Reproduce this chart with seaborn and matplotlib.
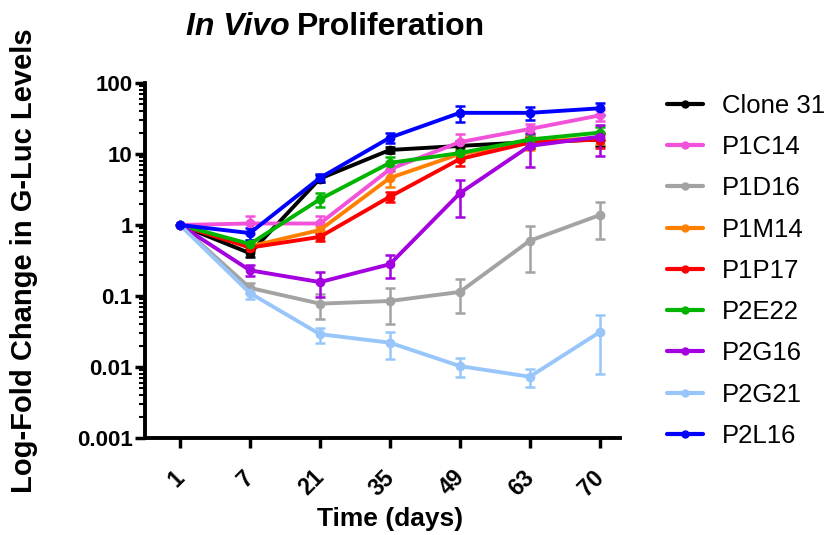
import numpy as np
import pandas as pd
import matplotlib
matplotlib.use("Agg")
import matplotlib.pyplot as plt
import matplotlib.transforms as mtransforms
import seaborn as sns
from matplotlib.lines import Line2D

days = ["1", "7", "21", "35", "49", "63", "70"]
series = ["Clone 31", "P1C14", "P1D16", "P1M14", "P1P17", "P2E22", "P2G16", "P2G21", "P2L16"]
colors = ["#000000", "#F252DA", "#A3A3A3", "#FF8000", "#FF0000", "#00B400", "#A400E0", "#98C6FA", "#0000FF"]

clone31 = [1.0, 0.40, 4.5, 11.4, 13.0, 14.7, 16.0]
p1c14 = [1.0, 1.05, 1.05, 6.1, 14.7, 22.5, 35.0]
p1d16 = [1.0, 0.13, 0.078, 0.085, 0.114, 0.60, 1.38]
p1m14 = [1.0, 0.50, 0.85, 4.6, 10.0, 14.5, 17.0]
p1p17 = [1.0, 0.48, 0.68, 2.5, 8.5, 14.5, 16.0]
p2e22 = [1.0, 0.54, 2.3, 7.5, 10.3, 16.0, 20.0]
p2g16 = [1.0, 0.23, 0.157, 0.28, 2.8, 13.0, 17.5]
p2g21 = [1.0, 0.11, 0.029, 0.022, 0.0103, 0.0073, 0.031]
p2l16 = [1.0, 0.77, 4.6, 17.0, 38.0, 38.0, 44.0]

clone31_err = [0.0, 0.05, 0.5, 1.0, 2.0, 2.5, 3.0]
p1c14_err = [0.0, 0.30, 0.30, 1.5, 4.5, 4.0, 6.0]
p1d16_err = [0.0, 0.02, 0.030, 0.045, 0.057, 0.38, 0.75]
p1m14_err = [0.0, 0.06, 0.12, 1.2, 2.0, 3.0, 3.0]
p1p17_err = [0.0, 0.05, 0.08, 0.4, 1.8, 2.5, 4.0]
p2e22_err = [0.0, 0.08, 0.5, 1.5, 2.0, 3.0, 4.0]
p2g16_err = [0.0, 0.04, 0.06, 0.10, 1.5, 6.5, 8.0]
p2g21_err = [0.0, 0.02, 0.007, 0.009, 0.003, 0.002, 0.023]
p2l16_err = [0.0, 0.15, 0.6, 2.5, 10.0, 8.0, 8.0]

values = [clone31, p1c14, p1d16, p1m14, p1p17, p2e22, p2g16, p2g21, p2l16]
errors = [clone31_err, p1c14_err, p1d16_err, p1m14_err, p1p17_err, p2e22_err, p2g16_err, p2g21_err, p2l16_err]

rows = []
for name, vals, errs in zip(series, values, errors):
    for i, (d, v, e) in enumerate(zip(days, vals, errs)):
        rows.append({"series": name, "day": d, "pos": i, "value": v, "err": e})
df = pd.DataFrame(rows)

sns.set_theme(style="ticks")
plt.rcParams["font.family"] = ["Liberation Sans", "DejaVu Sans"]
plt.rcParams.update({"text.color": "black", "axes.labelcolor": "black",
                     "xtick.color": "black", "ytick.color": "black",
                     "xtick.labelcolor": "black", "ytick.labelcolor": "black"})

fig = plt.figure(figsize=(8.29, 5.35), dpi=100)
ax = fig.add_axes([145 / 829, 97 / 535, 475 / 829, 355 / 535])

palette = dict(zip(series, colors))
for name in series:
    sub = df[df["series"] == name]
    ax.errorbar(sub["pos"], sub["value"], yerr=sub["err"], fmt="none",
                ecolor=palette[name], elinewidth=1.8, capsize=3.5, capthick=1.8, zorder=2)

sns.lineplot(data=df, x="pos", y="value", hue="series", palette=palette,
             hue_order=series, marker="o", markersize=7, markeredgewidth=0,
             linewidth=2.8, ax=ax, legend=False, sort=False, zorder=3)

ax.set_yscale("log")
ax.set_ylim(0.001, 100)
ax.set_xlim(-0.5, 6.29)
ax.set_xticks(range(len(days)))
ax.set_xticklabels(days, rotation=45, fontsize=16.5, fontweight="bold", color="black")
ax.set_yticks([0.001, 0.01, 0.1, 1, 10, 100])
ax.set_yticklabels(["0.001", "0.01", "0.1", "1", "10", "100"], fontsize=16, fontweight="bold", color="black")
ax.yaxis.set_minor_locator(matplotlib.ticker.LogLocator(base=10, subs=np.arange(2, 10)))
ax.yaxis.set_minor_formatter(matplotlib.ticker.NullFormatter())
ax.tick_params(axis="both", which="major", width=2.5, length=7, color="black", pad=2)
ax.tick_params(axis="x", which="major", pad=13)
ax.tick_params(axis="y", which="minor", width=1.5, length=4, color="black")
offset = mtransforms.ScaledTranslation(9 / 100, 0, fig.dpi_scale_trans)
for lbl in ax.get_xticklabels():
    lbl.set_ha("right")
    lbl.set_transform(lbl.get_transform() + offset)

for s in ["left", "bottom"]:
    ax.spines[s].set_linewidth(2.8)
    ax.spines[s].set_color("black")
sns.despine(ax=ax)

ax.set_xlabel("Time (days)", fontsize=19, fontweight="bold", color="black")
ax.xaxis.set_label_coords((390 - 145) / 475, -(507 - 438) / 355)
ax.set_ylabel("Log-Fold Change in G-Luc Levels", fontsize=21, fontweight="bold", color="black")
ax.yaxis.set_label_coords((38 - 145) / 475, 0.5)

fig.text(290 / 829, 1 - 27 / 535, "In Vivo", fontsize=23, fontweight="bold", fontstyle="italic",
         ha="right", va="center", color="black")
fig.text(297 / 829, 1 - 27 / 535, "Proliferation", fontsize=23, fontweight="bold", ha="left",
         va="center", color="black")

handles = [Line2D([0], [0], color=c, lw=3, marker="o", markersize=5) for c in colors]
leg = fig.legend(handles, series, loc="upper left", bbox_to_anchor=(667 / 829, 1 - 94 / 535),
                 frameon=False, fontsize=18.5, handlelength=1.4, labelspacing=0.67,
                 handletextpad=0.74, borderaxespad=0, borderpad=0, labelcolor="black")

fig.savefig("out.png", dpi=100)
